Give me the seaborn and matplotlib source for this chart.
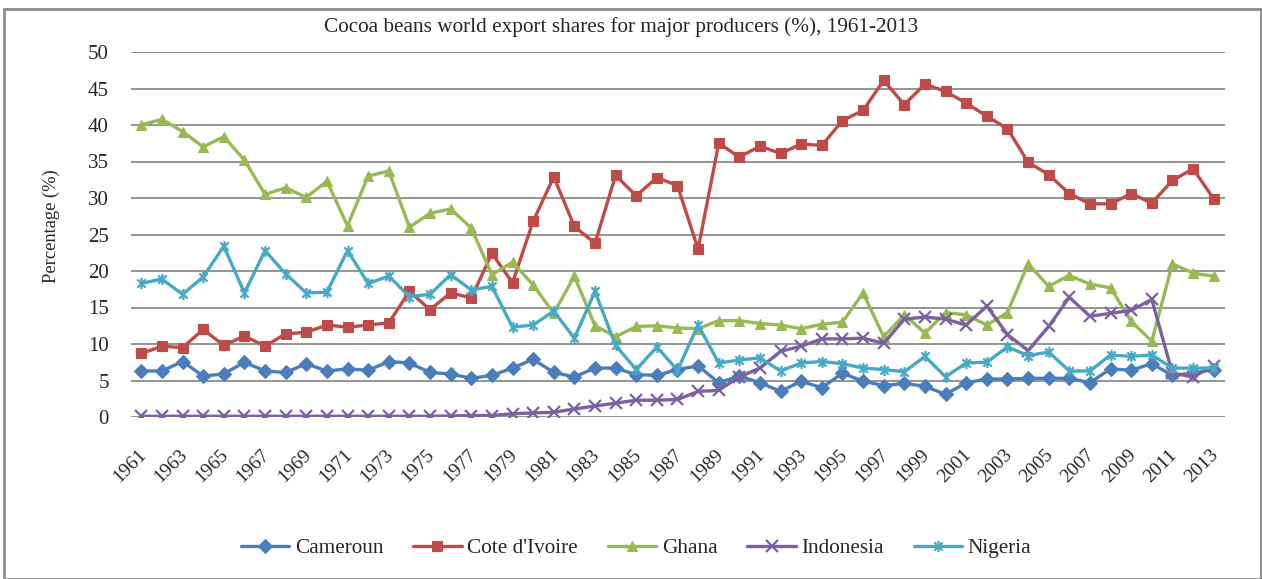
import numpy as np
import pandas as pd
import matplotlib
matplotlib.use("Agg")
import matplotlib.pyplot as plt
from matplotlib.path import Path
from matplotlib.patches import Rectangle
from matplotlib.lines import Line2D
from matplotlib.transforms import ScaledTranslation
import seaborn as sns

years = list(range(1961, 2014))

cameroun = [6.3, 6.3, 7.6, 5.6, 5.9, 7.5, 6.3, 6.1, 7.3, 6.3, 6.6, 6.4, 7.6,
            7.4, 6.1, 5.9, 5.3, 5.7, 6.7, 7.9, 6.1, 5.5, 6.7, 6.7, 5.8, 5.7,
            6.5, 7.0, 4.7, 5.6, 4.7, 3.5, 4.9, 4.0, 6.0, 4.9, 4.3, 4.6, 4.2,
            3.1, 4.7, 5.2, 5.2, 5.3, 5.3, 5.3, 4.7, 6.6, 6.4, 7.3, 5.7, 6.0,
            6.5]

cote_divoire = [8.7, 9.7, 9.5, 12.0, 9.8, 11.1, 9.7, 11.4, 11.6, 12.6, 12.3,
                12.6, 12.9, 17.2, 14.7, 17.0, 16.3, 22.4, 18.4, 26.8, 32.9,
                26.1, 23.8, 33.1, 30.3, 32.8, 31.7, 23.0, 37.5, 35.6, 37.1,
                36.1, 37.4, 37.2, 40.6, 42.0, 46.1, 42.8, 45.6, 44.6, 43.0,
                41.2, 39.5, 34.9, 33.2, 30.6, 29.2, 29.2, 30.6, 29.3, 32.4,
                34.0, 29.9]

ghana = [40.0, 40.8, 39.1, 37.0, 38.4, 35.2, 30.5, 31.4, 30.1, 32.3, 26.2,
         33.0, 33.7, 26.0, 27.9, 28.5, 25.9, 19.5, 21.2, 18.1, 14.2, 19.3,
         12.5, 11.0, 12.4, 12.5, 12.2, 12.1, 13.2, 13.2, 12.8, 12.6, 12.1,
         12.7, 13.0, 17.0, 11.0, 14.0, 11.5, 14.3, 14.0, 12.6, 14.3, 21.0,
         17.9, 19.4, 18.2, 17.7, 13.1, 10.4, 21.0, 19.7, 19.3]

indonesia = [0.1, 0.1, 0.1, 0.1, 0.1, 0.1, 0.1, 0.1, 0.1, 0.1, 0.1, 0.1, 0.1,
             0.1, 0.1, 0.15, 0.2, 0.2, 0.45, 0.55, 0.65, 1.1, 1.5, 1.9, 2.3,
             2.3, 2.4, 3.5, 3.65, 5.5, 6.7, 9.0, 9.7, 10.7, 10.7, 10.8, 10.1,
             13.4, 13.7, 13.4, 12.6, 15.2, 11.3, 9.1, 12.4, 16.4, 13.8, 14.2,
             14.6, 16.1, 6.0, 5.5, 7.0]

nigeria = [18.3, 18.9, 16.8, 19.2, 23.4, 17.0, 22.8, 19.6, 17.0, 17.1, 22.8,
           18.3, 19.3, 16.5, 16.8, 19.5, 17.4, 17.9, 12.3, 12.6, 14.5, 10.8,
           17.2, 9.8, 6.5, 9.6, 6.4, 12.6, 7.4, 7.8, 8.1, 6.3, 7.4, 7.6, 7.3,
           6.7, 6.5, 6.2, 8.3, 5.5, 7.4, 7.5, 9.6, 8.4, 8.9, 6.3, 6.3, 8.5,
           8.3, 8.5, 6.7, 6.7, 6.7]

countries = ["Cameroun", "Cote d'Ivoire", "Ghana", "Indonesia", "Nigeria"]
series = [cameroun, cote_divoire, ghana, indonesia, nigeria]

colors = ["#4a7ebb", "#be4b48", "#98b954", "#7d60a0", "#46aac5"]

# asterisk: vertical stroke plus an X
star = Path(
    [(0, -1), (0, 1), (-0.75, -0.75), (0.75, 0.75), (-0.75, 0.75), (0.75, -0.75)],
    [Path.MOVETO, Path.LINETO, Path.MOVETO, Path.LINETO, Path.MOVETO, Path.LINETO],
)
markers = ["D", "s", "^", "x", star]
filled = [True, True, True, False, False]

sns.set_theme(style="white")
plt.rcParams["font.family"] = ["Liberation Serif", "DejaVu Serif"]

W, H = 1262, 579
fig = plt.figure(figsize=(W / 100, H / 100), dpi=100)
ax = fig.add_axes([131 / W, 1 - 417 / H, (1225 - 131) / W, (417 - 52) / H])

handles = []
for name, vals, col, mk, fl in zip(countries, series, colors, markers, filled):
    frame = pd.DataFrame({"Year": years, "Share": vals})
    style = dict(marker=mk, markersize=7 if fl else 8,
                 markeredgecolor=col, markerfacecolor=col,
                 markeredgewidth=0.8 if fl else 1.6)
    sns.lineplot(data=frame, x="Year", y="Share", color=col, linewidth=2.4,
                 ax=ax, **style)
    handles.append(Line2D([0], [0], color=col, linewidth=2.4, **style))

ax.set_xlim(1960.5, 2013.55)
ax.set_ylim(0, 50)
ax.set_yticks(range(0, 51, 5))
ax.set_xticks(years[::2])
ax.set_xticklabels([str(y) for y in years[::2]], rotation=45, ha="right",
                   rotation_mode="anchor", fontsize=14)
ax.tick_params(axis="y", labelsize=15, length=0, pad=16)
ax.tick_params(axis="x", length=0, pad=21)
shift = ScaledTranslation(-4 / 100, 0, fig.dpi_scale_trans)
for lbl in ax.get_xticklabels():
    lbl.set_transform(lbl.get_transform() + shift)
ax.yaxis.grid(True, color="#8c8c8c", linewidth=1.3)
ax.xaxis.grid(False)
for s in ax.spines.values():
    s.set_visible(False)
ax.set_axisbelow(True)

ax.set_xlabel("")
ax.set_ylabel("")
fig.text(51 / W, 1 - 226 / H, "Percentage (%)", rotation=90, fontsize=13.3,
         ha="center", va="center")
fig.text(621 / W, 1 - 27 / H,
         "Cocoa beans world export shares for major producers (%), 1961-2013",
         fontsize=15.3, ha="center", va="center")

ax.legend(handles, countries, loc="center", bbox_to_anchor=(636 / W, 1 - 548 / H),
          bbox_transform=fig.transFigure, ncol=5, frameon=False, fontsize=15.3,
          handlelength=2.3, columnspacing=1.4, handletextpad=0.25)

fig.patches.append(Rectangle((4 / W, 0), 1 - 5 / W, 1 - 9 / H,
                             transform=fig.transFigure, fill=False,
                             edgecolor="#8c8c8c", linewidth=2))

fig.savefig("out.png", dpi=100)
